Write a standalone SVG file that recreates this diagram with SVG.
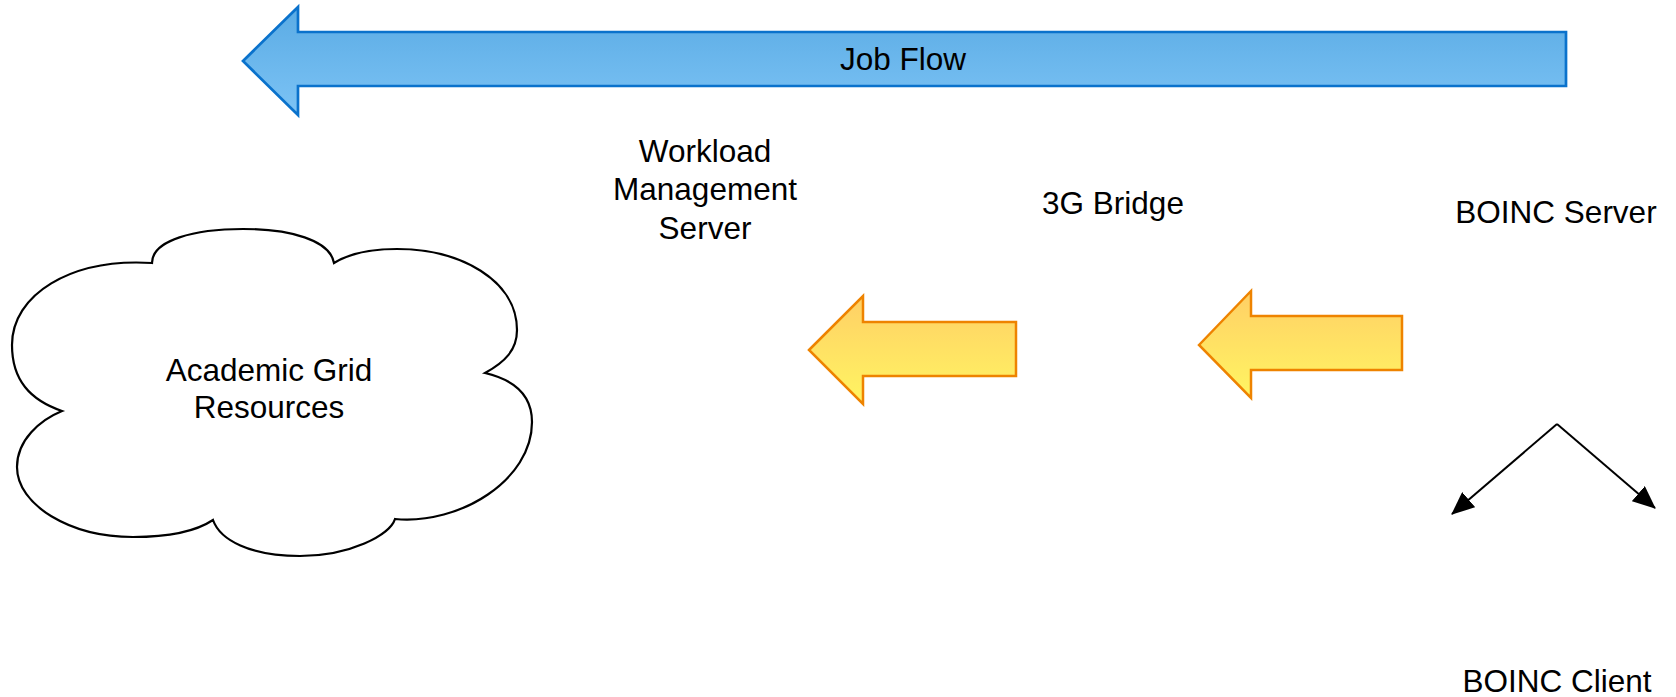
<svg xmlns="http://www.w3.org/2000/svg" width="1676" height="697" viewBox="0 0 1676 697">
<style>
  text { font-family: "Liberation Sans", Arial, sans-serif; fill: #000; text-anchor: middle; font-size: 31.5px; }
  .blue { fill: url(#gBlue); stroke: #0A72CC; stroke-width: 2.7; stroke-linejoin: miter; }
  .yel { fill: url(#gYel); stroke: #EE8300; stroke-width: 2.5; stroke-linejoin: miter; }
  .cloud { fill: #fff; stroke: #000; stroke-width: 2.2; }
  .conn { fill: none; stroke: #000; stroke-width: 2; }
</style>
<defs>
  <linearGradient id="gBlue" x1="0" y1="0" x2="0" y2="1">
    <stop offset="0" stop-color="#5AABE4"/>
    <stop offset="1" stop-color="#7CC3F5"/>
  </linearGradient>
  <linearGradient id="gYel" x1="0" y1="0" x2="0" y2="1">
    <stop offset="0" stop-color="#FFCF66"/>
    <stop offset="1" stop-color="#FFF562"/>
  </linearGradient>
  <marker id="ah" viewBox="0 0 23 20" refX="22" refY="10" markerWidth="23" markerHeight="20" markerUnits="userSpaceOnUse" orient="auto">
    <path d="M0,0 L23,10 L0,20 Z" fill="#000"/>
  </marker>
</defs>
<rect width="1676" height="697" fill="#fff"/>

<g id="job-flow">
  <path class="blue" d="M243,61 L298,7 L298,32 L1566,32 L1566,86 L298,86 L298,115 Z"/>
  <text x="903" y="70" font-size="30.5">Job Flow</text>
</g>

<g id="academic-grid">
  <path class="cloud" d="M62,411 C30,400 12,380 12,345 C12,295 70,258 152,263 C152,240 195,229 243,229 C290,229 330,240 334,263 C350,253 370,249 397,249 C460,249 517,280 517,330 C517,350 505,362 485,373 C515,380 532,395 532,422 C532,480 460,525 395,519 C390,535 350,556 300,556 C250,556 220,540 213,520 C195,532 165,537 133,537 C70,537 17,505 17,467 C17,440 40,420 62,411 Z"/>
  <text x="269" y="381">Academic Grid</text>
  <text x="269" y="418">Resources</text>
</g>

<g id="workload-management-server">
  <text x="705" y="162">Workload</text>
  <text x="705" y="200">Management</text>
  <text x="705" y="239">Server</text>
</g>

<g id="bridge-3g">
  <text x="1113" y="214">3G Bridge</text>
</g>

<g id="boinc-server">
  <text x="1556" y="223">BOINC Server</text>
</g>

<g id="boinc-client">
  <text x="1557" y="692">BOINC Client</text>
</g>

<g id="arrow-wms">
  <path class="yel" d="M809,350 L863,296 L863,322 L1016,322 L1016,376 L863,376 L863,404 Z"/>
</g>

<g id="arrow-bridge">
  <path class="yel" d="M1199,345 L1251,291 L1251,316 L1402,316 L1402,370 L1251,370 L1251,398 Z"/>
</g>

<g id="connectors">
  <path class="conn" d="M1557,424 L1452,514" marker-end="url(#ah)"/>
  <path class="conn" d="M1557,424 L1655,508" marker-end="url(#ah)"/>
</g>
</svg>
